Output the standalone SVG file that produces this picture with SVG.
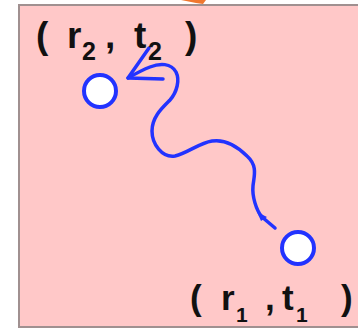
<svg xmlns="http://www.w3.org/2000/svg" width="358" height="328" viewBox="0 0 358 328">
<style>
.lbl{font-family:"Liberation Sans",Arial,sans-serif;font-weight:bold;fill:#111;}
.node{fill:#fff;stroke:#2233ff;stroke-width:4;}
.conn{fill:none;stroke:#2233ff;stroke-width:3.5;stroke-linecap:round;stroke-linejoin:round;}
</style>
<rect x="0" y="0" width="358" height="328" fill="#fff"/>
<rect x="19" y="5" width="360" height="322" fill="#ffc8c8" stroke="#a09090" stroke-width="2"/>
<polygon points="181,0 206,0 203,4 196,3" fill="#f07830"/>
<g id="connectors">
<path class="conn" d="M275,228 L262,217 C256,210 252,196 253,186 C254,176 258,166 247,156 C237,146 225,139 212,141 C199,143 188,153 175,156 C162,158 152,144 152,131 C152,117 162,108 170,100 C177,92 180,80 176,72 C171,63 160,63 150,67 C142,70 135,74 128,78"/>
<polyline class="conn" points="149,48 128,78 163,79"/>
<polygon points="257,212 267,217 261,221" fill="#2233ff"/>
</g>
<g id="node-r2t2">
<circle class="node" cx="100" cy="91" r="16"/>
<text class="lbl" font-size="37" y="48"><tspan x="36">(</tspan><tspan x="67">r</tspan><tspan x="105">,</tspan><tspan x="134">t</tspan><tspan x="185">)</tspan></text>
<text class="lbl" font-size="25" y="60"><tspan x="82">2</tspan><tspan x="148">2</tspan></text>
</g>
<g id="node-r1t1">
<circle class="node" cx="298" cy="248" r="16"/>
<text class="lbl" font-size="35" y="310"><tspan x="190">(</tspan><tspan x="221">r</tspan><tspan x="265">,</tspan><tspan x="282">t</tspan><tspan x="341">)</tspan></text>
<text class="lbl" font-size="21" y="322"><tspan x="236">1</tspan><tspan x="296">1</tspan></text>
</g>
</svg>
